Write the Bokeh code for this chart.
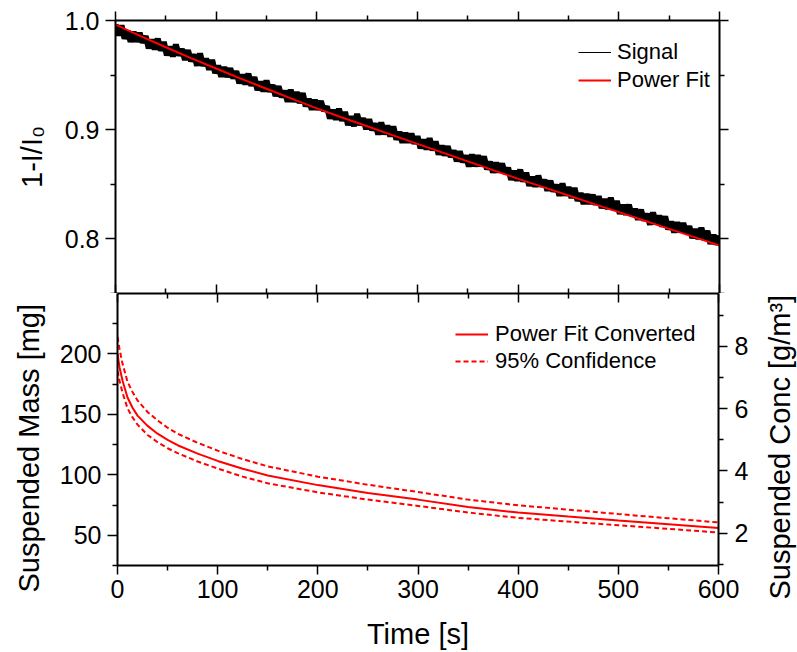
import math
from bokeh.plotting import figure
from bokeh.layouts import column, row
from bokeh.models import (Range1d, LinearAxis, FixedTicker, Legend, LegendItem, Title,
                          PrintfTickFormatter)
from bokeh.embed import file_html
from bokeh.resources import INLINE

FONT = "Liberation Sans"

# ---------------- data ----------------
t_signal = list(range(0, 601, 3))
signal = [
    0.9963, 0.9863, 0.9954, 0.9834, 0.9905, 0.9805, 0.9895, 0.9806, 0.9886, 0.9797,
    0.9857, 0.9746, 0.9826, 0.9735, 0.9834, 0.9724, 0.9803, 0.9682, 0.9761, 0.9671,
    0.9780, 0.9680, 0.9739, 0.9639, 0.9728, 0.9628, 0.9688, 0.9587, 0.9697, 0.9586,
    0.9651, 0.9550, 0.9639, 0.9518, 0.9587, 0.9486, 0.9574, 0.9483, 0.9562, 0.9471,
    0.9535, 0.9425, 0.9504, 0.9414, 0.9513, 0.9403, 0.9482, 0.9362, 0.9441, 0.9351,
    0.9450, 0.9349, 0.9409, 0.9308, 0.9398, 0.9297, 0.9356, 0.9256, 0.9365, 0.9255,
    0.9344, 0.9244, 0.9334, 0.9213, 0.9283, 0.9183, 0.9273, 0.9183, 0.9262, 0.9172,
    0.9212, 0.9102, 0.9182, 0.9092, 0.9192, 0.9082, 0.9163, 0.9043, 0.9123, 0.9033,
    0.9143, 0.9044, 0.9104, 0.9005, 0.9095, 0.8996, 0.9056, 0.8957, 0.9067, 0.8958,
    0.9038, 0.8939, 0.9029, 0.8910, 0.8980, 0.8881, 0.8972, 0.8882, 0.8963, 0.8873,
    0.8939, 0.8830, 0.8910, 0.8821, 0.8921, 0.8812, 0.8892, 0.8773, 0.8853, 0.8764,
    0.8849, 0.8750, 0.8810, 0.8711, 0.8801, 0.8702, 0.8763, 0.8663, 0.8774, 0.8664,
    0.8765, 0.8666, 0.8756, 0.8637, 0.8707, 0.8608, 0.8699, 0.8609, 0.8690, 0.8600,
    0.8651, 0.8542, 0.8623, 0.8533, 0.8634, 0.8525, 0.8606, 0.8487, 0.8567, 0.8478,
    0.8579, 0.8480, 0.8541, 0.8442, 0.8533, 0.8434, 0.8495, 0.8396, 0.8507, 0.8398,
    0.8474, 0.8375, 0.8466, 0.8348, 0.8419, 0.8320, 0.8411, 0.8322, 0.8404, 0.8315,
    0.8391, 0.8282, 0.8363, 0.8275, 0.8376, 0.8267, 0.8348, 0.8229, 0.8311, 0.8222,
    0.8313, 0.8214, 0.8275, 0.8176, 0.8267, 0.8169, 0.8230, 0.8131, 0.8242, 0.8133,
    0.8214, 0.8115, 0.8206, 0.8088, 0.8159, 0.8060, 0.8151, 0.8062, 0.8144, 0.8055,
    0.8116, 0.8007, 0.8089, 0.8000, 0.8102, 0.7993, 0.8074, 0.7956, 0.8037, 0.7949,
    0.8030,
]

t_fit = [0, 25, 50, 75, 100, 125, 150, 175, 200, 225, 250, 275, 300,
         325, 350, 375, 400, 425, 450, 475, 500, 525, 550, 575, 600]
power_fit = [0.9963, 0.9857, 0.9755, 0.9656, 0.9560, 0.9466, 0.9375, 0.9284, 0.9195,
             0.9112, 0.9031, 0.8950, 0.8870, 0.8790, 0.8710, 0.8630, 0.8550, 0.8474,
             0.8397, 0.8321, 0.8245, 0.8169, 0.8092, 0.8016, 0.7940]

t_mass = [0, 2, 5, 10, 15, 20, 30, 40, 50, 60, 80, 100, 125, 150, 200, 250, 300,
          350, 400, 450, 500, 550, 600]
mass_fit = [200, 189, 178, 164, 155.5, 149, 140.5, 134, 129, 124.5, 117.5, 111.5, 105,
            99.5, 91.5, 85, 79.5, 73.3, 68.8, 65.5, 62.3, 59.2, 56]
mass_upper = [214, 204, 192, 177, 168.5, 161.5, 152, 145, 139, 134, 126.5, 120, 113,
              107, 98.5, 91.8, 85.8, 79.5, 74.8, 71.2, 67.6, 64.1, 60.6]
mass_lower = [186, 178, 168, 155, 147.5, 141.5, 133, 127, 122, 118, 111, 105.2, 98.5,
              93, 85.5, 79.5, 74.3, 68.8, 64.4, 61.3, 58.3, 55.3, 52.3]

x_ticks = [0, 100, 200, 300, 400, 500, 600]
x_minor = [50, 150, 250, 350, 450, 550]
top_ticks = [0.8, 0.9, 1.0]
top_minor = [0.75, 0.85, 0.95]
mass_ticks = [50, 100, 150, 200]
mass_minor = [25, 75, 125, 175, 225]
conc_ticks = [2, 4, 6, 8]
conc_minor = [1, 3, 5, 7, 9]
MG_PER_CONC = 25.8   # mass [mg] per concentration [g/m^3]

X_RANGE = (0, 600)
TOP_RANGE = (0.75, 1.0)
MASS_RANGE = (25, 250)

TICK_FS = "25px"
TITLE_FS = "29px"
LEGEND_FS = "22px"


def style_axis(ax, ticks, minor, labels=True, tin=0, tout=9, mtin=0, mtout=5, standoff=6):
    ax.ticker = FixedTicker(ticks=ticks, minor_ticks=minor)
    ax.axis_line_width = 2
    ax.axis_line_color = "black"
    ax.major_tick_line_width = 1.5
    ax.minor_tick_line_width = 1.5
    ax.major_tick_line_color = "black"
    ax.minor_tick_line_color = "black"
    ax.major_tick_in = tin
    ax.major_tick_out = tout
    ax.minor_tick_in = mtin
    ax.minor_tick_out = mtout
    ax.major_label_text_font = FONT
    ax.major_label_text_color = "black"
    if labels:
        ax.major_label_text_font_size = TICK_FS
        ax.major_label_standoff = standoff
    else:
        ax.major_label_overrides = {v: "" for v in ticks}
        ax.major_label_text_font_size = "0px"
        ax.major_label_standoff = 0
    ax.axis_label_text_font = FONT
    ax.axis_label_text_font_size = TITLE_FS
    ax.axis_label_text_font_style = "normal"
    ax.axis_label_text_color = "black"


def side_title(text, offset, standoff):
    return Title(text=text, align="left", vertical_align="middle", offset=offset,
                 standoff=standoff, text_font=FONT, text_font_size=TITLE_FS,
                 text_font_style="normal", text_color="black")


x_range = Range1d(*X_RANGE)

# ---------------- top panel ----------------
p1 = figure(width=797, height=293, x_range=x_range, y_range=Range1d(*TOP_RANGE),
            output_backend="svg", toolbar_location=None,
            x_axis_location=None, y_axis_location=None,
            min_border_left=115, min_border_right=78, min_border_top=20, min_border_bottom=0)
p1.outline_line_color = None
p1.grid.visible = False

ax = LinearAxis(axis_label="1-I/I₀")
style_axis(ax, top_ticks, top_minor, labels=True, tout=10, standoff=6)
ax.formatter = PrintfTickFormatter(format="%.1f")
ax.axis_label_standoff = 14
p1.add_layout(ax, "left")
ax = LinearAxis(); style_axis(ax, top_ticks, top_minor, labels=False, tout=9)
p1.add_layout(ax, "right")
ax = LinearAxis(); style_axis(ax, x_ticks, x_minor, labels=False, tout=9)
p1.add_layout(ax, "above")
ax = LinearAxis(); style_axis(ax, x_ticks, x_minor, labels=False, tin=9, tout=0, mtin=5, mtout=0)
p1.add_layout(ax, "below")

# thick stroke renders the dense noisy trace as a solid band
p1.line(t_signal, signal, line_color="black", line_width=6, line_join="bevel")
r_sig = p1.line(t_signal, signal, line_color="black", line_width=1)
r_fit = p1.line(t_fit, power_fit, line_color="red", line_width=2)

leg1 = Legend(items=[LegendItem(label="Signal", renderers=[r_sig]),
                     LegendItem(label="Power Fit", renderers=[r_fit])],
              location=(463, 200), border_line_color=None, background_fill_alpha=0,
              padding=0, spacing=2, margin=0, glyph_width=33, glyph_height=20,
              label_standoff=6, label_text_font=FONT, label_text_font_size=LEGEND_FS,
              label_text_color="black")
p1.add_layout(leg1)

# ---------------- bottom panel ----------------
p2 = figure(width=751, height=359, x_range=x_range, y_range=Range1d(*MASS_RANGE),
            output_backend="svg", toolbar_location=None,
            x_axis_location=None, y_axis_location=None,
            min_border_left=115, min_border_right=32, min_border_top=0, min_border_bottom=86)
p2.outline_line_color = None
p2.grid.visible = False
p2.extra_y_ranges = {"conc": Range1d(MASS_RANGE[0] / MG_PER_CONC, MASS_RANGE[1] / MG_PER_CONC)}

ax = LinearAxis(); style_axis(ax, mass_ticks, mass_minor, labels=True, tout=10, standoff=6)
p2.add_layout(ax, "left")
ax = LinearAxis(y_range_name="conc")
style_axis(ax, conc_ticks, conc_minor, labels=True, tout=9, standoff=7)
p2.add_layout(ax, "right")
ax = LinearAxis(); style_axis(ax, x_ticks, x_minor, labels=False, tin=9, tout=0, mtin=5, mtout=0)
p2.add_layout(ax, "above")
ax = LinearAxis(axis_label="Time [s]"); style_axis(ax, x_ticks, x_minor, labels=True, tout=9, standoff=5)
ax.axis_label_standoff = 17
p2.add_layout(ax, "below")

p2.add_layout(side_title("Suspended Mass [mg]", offset=-27, standoff=22), "left")

r_mf = p2.line(t_mass, mass_fit, line_color="red", line_width=2)
r_up = p2.line(t_mass, mass_upper, line_color="red", line_width=2, line_dash="5 3")
p2.line(t_mass, mass_lower, line_color="red", line_width=2, line_dash="5 3")

leg2 = Legend(items=[LegendItem(label="Power Fit Converted", renderers=[r_mf]),
                     LegendItem(label="95% Confidence", renderers=[r_up])],
              location=(338, 191), border_line_color=None, background_fill_alpha=0,
              padding=0, spacing=1, margin=0, glyph_width=33, glyph_height=20,
              label_standoff=7, label_text_font=FONT, label_text_font_size=LEGEND_FS,
              label_text_color="black")
p2.add_layout(leg2)

# ---------------- right-hand strip carrying the concentration axis title ----------------
p3 = figure(width=46, height=359, x_range=Range1d(0, 1), y_range=Range1d(*MASS_RANGE),
            output_backend="svg", toolbar_location=None,
            x_axis_location=None, y_axis_location=None,
            min_border_left=45, min_border_right=0, min_border_top=0, min_border_bottom=86)
p3.outline_line_color = None
p3.grid.visible = False
p3.add_layout(side_title("Suspended Conc [g/m³]", offset=-34, standoff=0), "left")

layout = column(p1, row(p2, p3, spacing=0), spacing=0)
open("out.html", "w").write(file_html(layout, INLINE))
